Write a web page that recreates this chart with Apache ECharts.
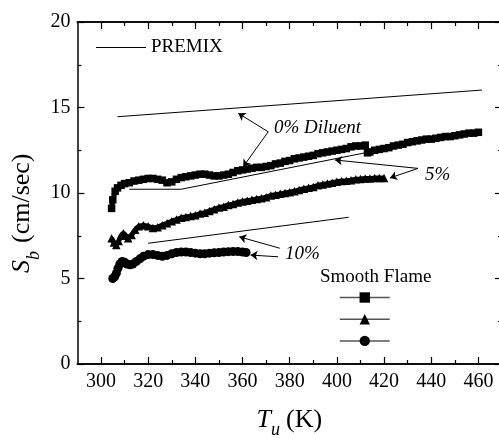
<!DOCTYPE html>
<html>
<head>
<meta charset="utf-8">
<script src="https://cdn.jsdelivr.net/npm/echarts@6/dist/echarts.min.js"></script>
<style>
  html, body { margin: 0; padding: 0; background: #fff; }
  #main { width: 499px; height: 438px; }
</style>
</head>
<body>
<div id="main"></div>
<script>
// axis ticks
var xTickLabels = [300, 320, 340, 360, 380, 400, 420, 440, 460];
var xMinorTicks = [310, 330, 350, 370, 390, 410, 430, 450];

// PREMIX calculations (thin lines)
var premix0 = [[307, 14.46], [461.5, 16.02]];
var premix5 = [[312, 10.22], [334, 10.22], [412, 12.35]];
var premix10 = [[320, 7.06], [405, 8.58]];

// smooth flame measurements
var flame0 = [
  [304.5, 9.1], [305, 9.6], [306, 10.1], [307, 10.3], [308.5, 10.45], [310, 10.55],
  [312, 10.6], [314, 10.7], [316, 10.75], [318, 10.8], [320, 10.85], [322, 10.85],
  [324, 10.8], [326, 10.75], [328, 10.6], [330, 10.65], [332, 10.8], [334, 10.9],
  [336, 10.95], [338, 11.0], [340, 11.05], [342, 11.1], [344, 11.1], [346, 11.05],
  [348, 11.0], [350, 11.0], [352, 11.05], [354, 11.1], [356, 11.2], [358, 11.3],
  [360, 11.35], [362, 11.4], [364, 11.45], [366, 11.5], [368, 11.5], [370, 11.55],
  [372, 11.6], [374, 11.7], [376, 11.75], [378, 11.85], [380, 11.9], [382, 12.0],
  [384, 12.05], [386, 12.1], [388, 12.15], [390, 12.2], [392, 12.3], [394, 12.35],
  [396, 12.4], [398, 12.45], [400, 12.5], [402, 12.55], [404, 12.6], [406, 12.7],
  [408, 12.75], [410, 12.75], [412, 12.8], [413, 12.35], [414, 12.4], [416, 12.5],
  [418, 12.55], [420, 12.6], [422, 12.65], [424, 12.75], [426, 12.8], [428, 12.85],
  [430, 12.95], [432, 13.0], [434, 13.05], [436, 13.1], [438, 13.15], [440, 13.15],
  [442, 13.2], [444, 13.25], [446, 13.3], [448, 13.3], [450, 13.35], [452, 13.4],
  [454, 13.45], [456, 13.5], [458, 13.5], [460, 13.55]
];
var flame5 = [
  [304.5, 7.35], [305.5, 7.1], [306.5, 6.96], [307.5, 7.2], [308.5, 7.5], [309.5, 7.64],
  [310.5, 7.5], [311.5, 7.35], [313, 7.55], [314.5, 7.85], [316, 8.05], [318, 8.12],
  [320, 8.05], [322, 7.95], [324, 8.0], [326, 8.12], [328, 8.23], [330, 8.35],
  [332, 8.45], [334, 8.55], [336, 8.6], [338, 8.65], [340, 8.7], [342, 8.8],
  [344, 8.85], [346, 8.95], [348, 9.05], [350, 9.15], [352, 9.2], [354, 9.3],
  [356, 9.35], [358, 9.45], [360, 9.5], [362, 9.55], [364, 9.6], [366, 9.65],
  [368, 9.7], [370, 9.75], [372, 9.85], [374, 9.9], [376, 9.95], [378, 10.0],
  [380, 10.05], [382, 10.1], [384, 10.18], [386, 10.25], [388, 10.3], [390, 10.35],
  [392, 10.45], [394, 10.5], [396, 10.55], [398, 10.6], [400, 10.66], [402, 10.7],
  [404, 10.72], [406, 10.75], [408, 10.8], [410, 10.82], [412, 10.85], [414, 10.85],
  [416, 10.87], [418, 10.88], [420, 10.88]
];
var flame10 = [
  [305, 5.0], [305.8, 5.1], [306.5, 5.3], [307.2, 5.6], [308, 5.85], [309, 6.0],
  [310, 5.95], [311, 5.85], [312.3, 5.8], [313.5, 5.85], [315, 6.0], [316.5, 6.15],
  [318, 6.3], [320, 6.4], [322, 6.4], [324, 6.35], [326, 6.3], [328, 6.35],
  [330, 6.45], [332, 6.52], [334, 6.55], [336, 6.55], [338, 6.52], [340, 6.48],
  [342, 6.45], [344, 6.45], [346, 6.48], [348, 6.5], [350, 6.52], [352, 6.55],
  [354, 6.57], [356, 6.58], [358, 6.58], [360, 6.55], [361.5, 6.52]
];

// annotation arrows: [from, to] in data units
var arrows = [
  [[370.9, 13.58], [358.2, 14.66]],
  [[370.9, 13.58], [360.3, 11.54]],
  [[434.4, 11.44], [399.2, 11.93]],
  [[434.4, 11.44], [422.5, 10.88]],
  [[375.8, 6.77], [358.6, 7.44]],
  [[375.1, 6.27], [363.4, 6.37]]
];

var serif = '"Liberation Serif", "Times New Roman", serif';
var chart = echarts.init(document.getElementById('main'));

function xAxisOf(pos, major, showLabel) {
  return {
    type: 'value', position: pos, min: 290, max: 470,
    axisLine: { show: true, lineStyle: { color: '#000', width: 1.5 } },
    splitLine: { show: false },
    axisLabel: showLabel ? {
      customValues: xTickLabels, color: '#000', fontSize: 20, fontFamily: serif, margin: 8
    } : { show: false },
    axisTick: {
      show: true, inside: true, length: major ? 7 : 4,
      customValues: major ? xTickLabels : xMinorTicks,
      lineStyle: { color: '#000', width: 1.2 }
    }
  };
}
function yAxisOf(pos, showLabel) {
  return {
    type: 'value', position: pos, min: 0, max: 20, interval: 5,
    axisLine: { show: true, lineStyle: { color: '#000', width: 1.5 } },
    splitLine: { show: false },
    axisLabel: showLabel ? { color: '#000', fontSize: 20, fontFamily: serif, margin: 7 } : { show: false },
    axisTick: { show: true, inside: true, length: 7, lineStyle: { color: '#000', width: 1.2 } },
    minorTick: { show: true, splitNumber: 2, length: 4, lineStyle: { color: '#000', width: 1.2 } }
  };
}

var option = {
  animation: false,
  backgroundColor: '#fff',
  grid: { left: 77.4, right: -3, top: 22, bottom: 74, containLabel: false, outerBoundsMode: 'none' },
  xAxis: [
    xAxisOf('bottom', true, true),
    xAxisOf('bottom', false, false),
    xAxisOf('top', true, false),
    xAxisOf('top', false, false)
  ],
  yAxis: [yAxisOf('left', true), yAxisOf('right', false)],
  legend: [
    {
      data: [{ name: 'PREMIX', icon: 'path://M0,0H50V1.2H0Z' }],
      left: 96, top: 38, itemWidth: 50, itemHeight: 1.2, padding: 0,
      selectedMode: false,
      itemStyle: { color: '#000' },
      textStyle: { color: '#000', fontSize: 19, fontFamily: serif }
    },
    {
      data: ['0% Diluent', '5%', '10%'], orient: 'vertical', left: 339, top: 291,
      itemWidth: 50, itemHeight: 13, itemGap: 10, padding: 0, selectedMode: false,
      formatter: function () { return ''; },
      lineStyle: { color: '#555', width: 1.5, opacity: 1 }
    }
  ],
  series: [
    {
      name: 'PREMIX', type: 'line', data: premix0, symbol: 'none',
      lineStyle: { color: '#000', width: 1 }, itemStyle: { color: '#000' },
      markLine: {
        silent: true, symbol: ['none', 'arrow'], symbolSize: 7,
        label: { show: false },
        lineStyle: { color: '#000', width: 1, type: 'solid' },
        data: arrows.map(function (a) { return [{ coord: a[0] }, { coord: a[1] }]; })
      }
    },
    { name: 'premix5', type: 'line', data: premix5, symbol: 'none', lineStyle: { color: '#000', width: 1 } },
    { name: 'premix10', type: 'line', data: premix10, symbol: 'none', lineStyle: { color: '#000', width: 1 } },
    {
      name: '0% Diluent', type: 'line', data: flame0, symbol: 'rect', symbolSize: 7.5, showAllSymbol: true,
      lineStyle: { color: '#000', width: 5 }, itemStyle: { color: '#000' }
    },
    {
      name: '5%', type: 'line', data: flame5, symbol: 'triangle', symbolSize: 8.5, showAllSymbol: true,
      lineStyle: { color: '#000', width: 5 }, itemStyle: { color: '#000' }
    },
    {
      name: '10%', type: 'line', data: flame10, symbol: 'circle', symbolSize: 9, showAllSymbol: true,
      lineStyle: { color: '#000', width: 6 }, itemStyle: { color: '#000' }
    }
  ],
  graphic: [
    { type: 'text', x: 274, y: 128, style: { text: '0% Diluent', fontSize: 19, fontStyle: 'italic', fontFamily: serif, fill: '#000', textVerticalAlign: 'middle' } },
    { type: 'text', x: 425, y: 175, style: { text: '5%', fontSize: 19, fontStyle: 'italic', fontFamily: serif, fill: '#000', textVerticalAlign: 'middle' } },
    { type: 'text', x: 285, y: 254, style: { text: '10%', fontSize: 19, fontStyle: 'italic', fontFamily: serif, fill: '#000', textVerticalAlign: 'middle' } },
    { type: 'text', x: 320, y: 277, style: { text: 'Smooth Flame', fontSize: 19, fontFamily: serif, fill: '#000', textVerticalAlign: 'middle' } },
    // x axis title: T_u (K)
    { type: 'text', x: 256.5, y: 420, style: { text: 'T', fontSize: 26, fontStyle: 'italic', fontFamily: serif, fill: '#000', textVerticalAlign: 'middle' } },
    { type: 'text', x: 271, y: 430, style: { text: 'u', fontSize: 18, fontStyle: 'italic', fontFamily: serif, fill: '#000', textVerticalAlign: 'middle' } },
    { type: 'text', x: 286, y: 420, style: { text: '(K)', fontSize: 26, fontFamily: serif, fill: '#000', textVerticalAlign: 'middle' } },
    // y axis title: S_b (cm/sec)
    {
      type: 'group', x: 22, y: 273, rotation: Math.PI / 2,
      children: [
        { type: 'text', x: 0, y: 0, style: { text: 'S', fontSize: 26, fontStyle: 'italic', fontFamily: serif, fill: '#000', textVerticalAlign: 'middle' } },
        { type: 'text', x: 13, y: 12, style: { text: 'b', fontSize: 18, fontStyle: 'italic', fontFamily: serif, fill: '#000', textVerticalAlign: 'middle' } },
        { type: 'text', x: 30, y: 0, style: { text: '(cm/sec)', fontSize: 26, fontFamily: serif, fill: '#000', textVerticalAlign: 'middle' } }
      ]
    }
  ]
};
chart.setOption(option);
</script>
</body>
</html>
